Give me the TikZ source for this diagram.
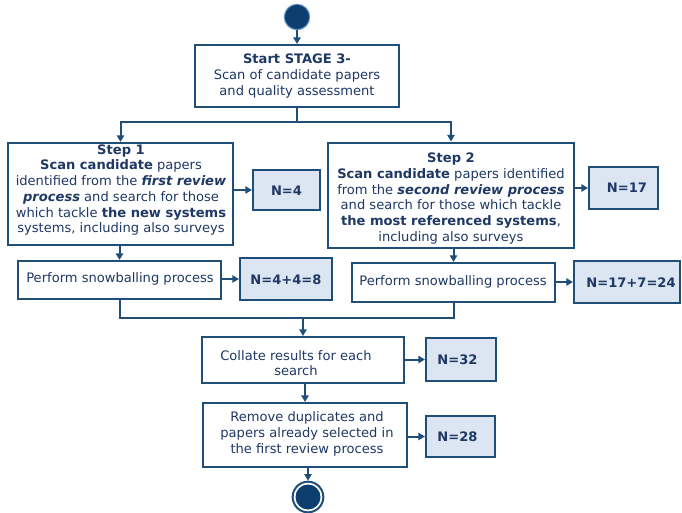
\documentclass[tikz,border=0pt]{standalone}
\usepackage{fontspec}
\setmainfont{DejaVu Sans}
\usetikzlibrary{arrows.meta}
\definecolor{navy}{HTML}{1F3864}
\definecolor{edge}{HTML}{1F4E79}
\definecolor{nfill}{HTML}{DCE6F2}
\definecolor{dot}{HTML}{0E3E70}
\definecolor{ring}{HTML}{5B8FC5}
\begin{document}
\begin{tikzpicture}[x=0.75pt,y=-0.75pt,
 box/.style={draw=edge,line width=1.5pt,fill=white,inner sep=0pt},
 nbox/.style={box,fill=nfill},
 txt/.style={text=navy,align=center,inner sep=0pt,font=\fontsize{9.8}{11.8}\selectfont},
 ntxt/.style={txt,font=\fontsize{9.8}{11.8}\selectfont\bfseries},
 conn/.style={draw=edge,line width=1.5pt},
 arr/.style={conn,-{Triangle[length=5pt,width=5.5pt]}}]
\useasboundingbox (0,0) rectangle (682,512);

% start circle
\node[circle,fill=dot,draw=ring,line width=0.8pt,minimum size=19pt,inner sep=0pt] (top) at (297,17) {};

% boxes
\node[box,minimum width=153pt,minimum height=46.5pt] (start) at (297,76) {};
\node[txt] (starttxt) at (297,76) {\textbf{Start STAGE 3-}\\Scan of candidate papers\\and quality assessment};

\node[box,minimum width=168.75pt,minimum height=76.5pt] (s1) at (120.5,194) {};
\node[txt] (s1txt) at (121,190) {\textbf{Step 1}\\\textbf{Scan candidate} papers\\identified from the \textbf{\textit{first review}}\\\textbf{\textit{process}} and search for those\\which tackle \textbf{the new systems}\\systems, including also surveys};

\node[box,minimum width=184.5pt,minimum height=78.75pt] (s2) at (451,195) {};
\node[txt] (s2txt) at (451,198.5) {\textbf{Step 2}\\\textbf{Scan candidate} papers identified\\from the \textbf{\textit{second review process}}\\and search for those which tackle\\\textbf{the most referenced systems},\\including also surveys};

\node[nbox,minimum width=50.25pt,minimum height=30pt] (n4) at (286.5,190) {};
\node[ntxt] (n4txt) at (286.5,191) {N=4};
\node[nbox,minimum width=51.75pt,minimum height=31.5pt] (n17) at (623.5,188) {};
\node[ntxt] (n17txt) at (627,188) {N=17};

\node[box,minimum width=152.25pt,minimum height=28.5pt] (sn1) at (119.5,280) {};
\node[txt] (sn1txt) at (120,279) {Perform snowballing process};
\node[box,minimum width=152.25pt,minimum height=29.25pt] (sn2) at (453.5,282.5) {};
\node[txt] (sn2txt) at (453,282) {Perform snowballing process};

\node[nbox,minimum width=69pt,minimum height=31.5pt] (n8) at (286,279) {};
\node[ntxt] (n8txt) at (286,280) {N=4+4=8};
\node[nbox,minimum width=79.5pt,minimum height=31.5pt] (n24) at (627,282) {};
\node[ntxt] (n24txt) at (631,283) {N=17+7=24};

\node[box,minimum width=151.5pt,minimum height=34.5pt] (col) at (303,360) {};
\node[txt] (coltxt) at (296,363) {Collate results for each\\search};
\node[nbox,minimum width=52.5pt,minimum height=32.25pt] (n32) at (461,359.5) {};
\node[ntxt] (n32txt) at (457.5,359.5) {N=32};

\node[box,minimum width=153pt,minimum height=48pt] (rem) at (305,435) {};
\node[txt] (remtxt) at (307,434) {Remove duplicates and\\papers already selected in\\the first review process};
\node[nbox,minimum width=51.75pt,minimum height=30.75pt] (n28) at (460.5,436.5) {};
\node[ntxt] (n28txt) at (457.5,437) {N=28};

% end circle
\node[circle,draw=edge,line width=1.5pt,fill=white,minimum size=23pt,inner sep=0pt] (end) at (308,497) {};
\fill[dot] (end.center) circle (12.5);

% connectors
\coordinate (sp) at (297,122);
\coordinate (jn) at (303,318);
\draw[arr] (top.south) -- (start.north);
\draw[conn] (start.south) -- (sp);
\draw[arr] (sp) -| (s1.north);
\draw[arr] (sp) -| (s2.north);
\draw[arr] (s1.east |- n4.west) -- (n4.west);
\draw[arr] (s2.east |- n17.west) -- (n17.west);
\draw[arr] (s1.south -| sn1.north) -- (sn1.north);
\draw[arr] (s2.south -| sn2.north) -- (sn2.north);
\draw[arr] (sn1.east |- n8.west) -- (n8.west);
\draw[arr] (sn2.east |- n24.west) -- (n24.west);
\draw[conn] (sn1.south) |- (jn);
\draw[conn] (sn2.south) |- (jn);
\draw[arr] (jn) -- (col.north);
\draw[arr] (col.east |- n32.west) -- (n32.west);
\draw[arr] (rem.north |- col.south) -- (rem.north);
\draw[arr] (rem.east |- n28.west) -- (n28.west);
\draw[arr] (end.north |- rem.south) -- (end.north);
\end{tikzpicture}
\end{document}
